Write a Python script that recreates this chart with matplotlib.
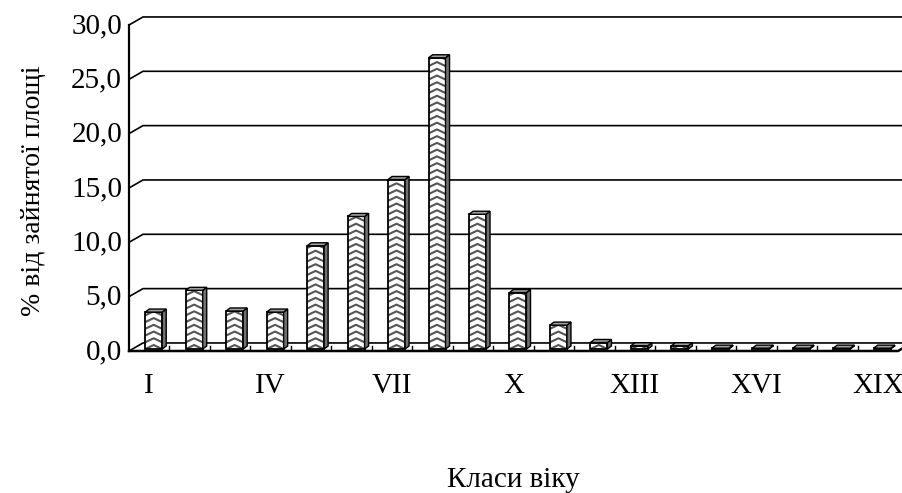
import numpy as np
import matplotlib
matplotlib.use("Agg")
import matplotlib.pyplot as plt
from matplotlib.patches import Rectangle, Polygon
from matplotlib.collections import LineCollection

plt.rcParams['font.family'] = ['Liberation Serif', 'DejaVu Serif']

# data
classes = ['I', 'II', 'III', 'IV', 'V', 'VI', 'VII', 'VIII', 'IX', 'X',
           'XI', 'XII', 'XIII', 'XIV', 'XV', 'XVI', 'XVII', 'XVIII', 'XIX']
share = [3.4, 5.4, 3.5, 3.4, 9.5, 12.2, 15.6, 26.8, 12.4, 5.2,
         2.2, 0.6, 0.3, 0.3, 0.08, 0.08, 0.08, 0.08, 0.08]
y_ticks = [0, 5, 10, 15, 20, 25, 30]
shown_labels = ['I', 'IV', 'VII', 'X', 'XIII', 'XVI', 'XIX']

n = len(classes)
pos = np.arange(1, n + 1)

fig = plt.figure(figsize=(9.03, 4.93), dpi=100)
ax = fig.add_axes([129 / 903, 1 - 351 / 493, (898 - 129) / 903, (351 - 25) / 493])
ax.set_xlim(0.5, n + 0.5)
ax.set_ylim(0, 30)
ax.axis('off')

# 3d offsets (data units)
dx, dy = 0.346, 0.74       # wall depth
bdx, bdy = 0.10, 0.28      # bar depth
base = 0.18
bw = 0.42
left_off = 0.40

# back wall gridlines with left-wall diagonals
for v in y_ticks:
    ax.plot([0.5, 0.5 + dx, n + 0.5 + dx], [v, v + dy, v + dy],
            color='black', lw=1.2, clip_on=False, zorder=1,
            solid_joinstyle='miter')
    ax.annotate(f"{v:.1f}".replace('.', ','), xy=(0.5, v), xytext=(-5, -5.8),
                textcoords='offset points', ha='right', va='baseline',
                fontsize=21)

# y axis
ax.plot([0.5, 0.5], [0, 30], color='black', lw=1.6, clip_on=False, zorder=6)

# category ticks on floor
for b in pos[:-1] + 0.5:
    ax.plot([b, b], [0, 0.45], color='black', lw=1.0, zorder=2)

# bars
for i, v in zip(pos, share):
    x0 = i - 0.5 + left_off
    x1 = x0 + bw
    top = base + v
    front = Rectangle((x0, base), bw, v, facecolor='white', edgecolor='none', zorder=3)
    ax.add_patch(front)
    # chevron pattern
    period, amp = 0.62, 0.37
    segs = []
    for y in np.arange(base - period, top + period, period):
        segs.append([(x0, y), (x0 + bw / 2, y + amp), (x1, y)])
    lc = LineCollection(segs, colors='#555555', linewidths=1.5, zorder=4)
    ax.add_collection(lc)
    lc.set_clip_path(front)
    ax.add_patch(Rectangle((x0, base), bw, v, facecolor='none',
                           edgecolor='black', lw=1.3, zorder=5))
    side = Polygon([(x1, base), (x1 + bdx, base + bdy), (x1 + bdx, top + bdy), (x1, top)],
                   closed=True, facecolor='#707070', edgecolor='black', lw=1.0, zorder=5)
    ax.add_patch(side)
    cap = Polygon([(x0, top), (x0 + bdx, top + bdy), (x1 + bdx, top + bdy), (x1, top)],
                  closed=True, facecolor='#a0a0a0', edgecolor='black', lw=1.0, zorder=5)
    ax.add_patch(cap)

# floor
ax.plot([0.5, n + 0.5, n + 0.5 + dx], [0, 0, dy], color='black', lw=1.8,
        clip_on=False, zorder=7)

# x labels
for lab in shown_labels:
    ax.annotate(lab, xy=(pos[classes.index(lab)], 0), xytext=(0, -30),
                textcoords='offset points', ha='center', va='baseline', fontsize=21)

fig.text(34 / 903, 1 - 191 / 493, '% від зайнятої площі', rotation=90,
         ha='center', va='center', fontsize=20)
fig.text(513 / 903, 1 - 487 / 493, 'Класи віку', ha='center', va='baseline', fontsize=21)

fig.savefig('out.png', dpi=100)
